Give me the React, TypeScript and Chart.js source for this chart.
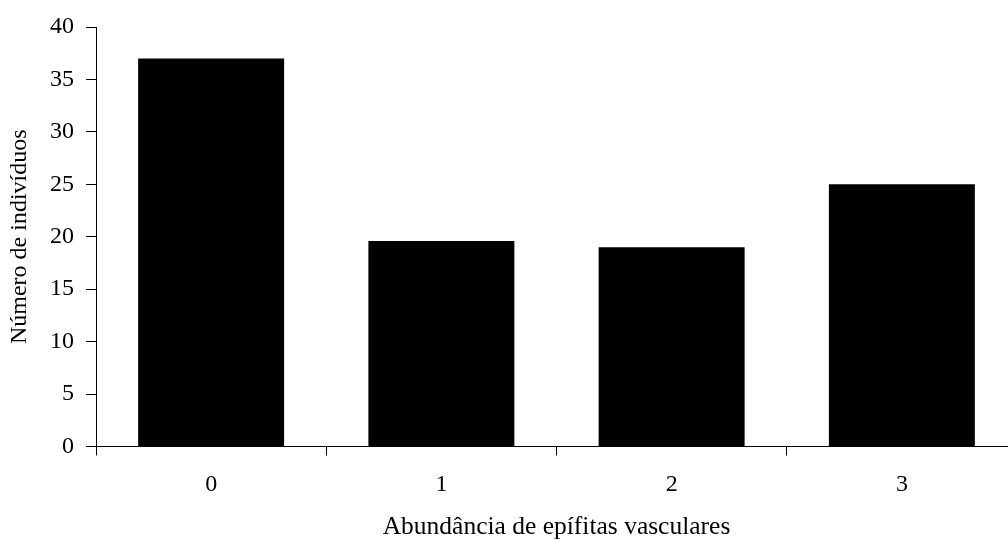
import React, { useEffect, useRef } from "react";
import { Chart, registerables } from "chart.js";

Chart.register(...registerables);

const categories = ["0", "1", "2", "3"];
const counts = [37, 19.6, 19, 25];
const yTicks = [0, 5, 10, 15, 20, 25, 30, 35, 40];
const xTitle = "Abundância de epífitas vasculares";
const yTitle = "Número de indivíduos";

const FONT = "'Liberation Serif', 'Times New Roman', serif";
const CANVAS_W = 1040;
const CANVAS_H = 540;

export default function App() {
  const ref = useRef<HTMLCanvasElement | null>(null);

  useEffect(() => {
    if (!ref.current) return;
    const chart = new Chart(ref.current, {
      type: "bar",
      data: {
        labels: categories,
        datasets: [
          {
            data: counts,
            backgroundColor: "#000000",
            borderWidth: 0,
            categoryPercentage: 1,
            barPercentage: 0.634,
          },
        ],
      },
      options: {
        animation: false,
        responsive: false,
        maintainAspectRatio: false,
        layout: { padding: { top: 27, right: 23, bottom: 0, left: 0 } },
        plugins: { legend: { display: false }, tooltip: { enabled: false } },
        scales: {
          x: {
            type: "category",
            offset: true,
            grid: {
              offset: true,
              drawOnChartArea: false,
              drawTicks: true,
              tickLength: 9,
              color: "#000",
              lineWidth: 1,
            },
            border: { display: true, color: "#000", width: 1 },
            ticks: {
              color: "#000",
              font: { family: FONT, size: 24 },
              padding: 15,
              maxRotation: 0,
            },
            title: {
              display: true,
              text: xTitle,
              color: "#000",
              font: { family: FONT, size: 25.5, lineHeight: 1.0 },
              padding: 0,
            },
            afterFit: (scale: any) => {
              scale.height = 93.5;
            },
          },
          y: {
            min: 0,
            max: 40,
            afterBuildTicks: (scale: any) => {
              scale.ticks = yTicks.map((v) => ({ value: v }));
            },
            grid: {
              drawOnChartArea: false,
              drawTicks: true,
              tickLength: 10,
              color: "#000",
              lineWidth: 1,
            },
            border: { display: true, color: "#000", width: 1 },
            ticks: {
              color: "#000",
              font: { family: FONT, size: 24 },
              padding: 12,
            },
            title: {
              display: true,
              text: yTitle,
              color: "#000",
              font: { family: FONT, size: 24 },
              padding: { top: 5, bottom: 0 },
            },
            afterFit: (scale: any) => {
              scale.width = 96;
            },
          },
        },
      },
    });
    return () => chart.destroy();
  }, []);

  return (
    <div
      style={{
        position: "fixed",
        left: 0,
        top: 0,
        width: 1008,
        height: 540,
        overflow: "hidden",
        background: "#fff",
      }}
    >
      <canvas
        ref={ref}
        width={CANVAS_W}
        height={CANVAS_H}
        style={{ display: "block", width: CANVAS_W, height: CANVAS_H }}
      />
    </div>
  );
}
